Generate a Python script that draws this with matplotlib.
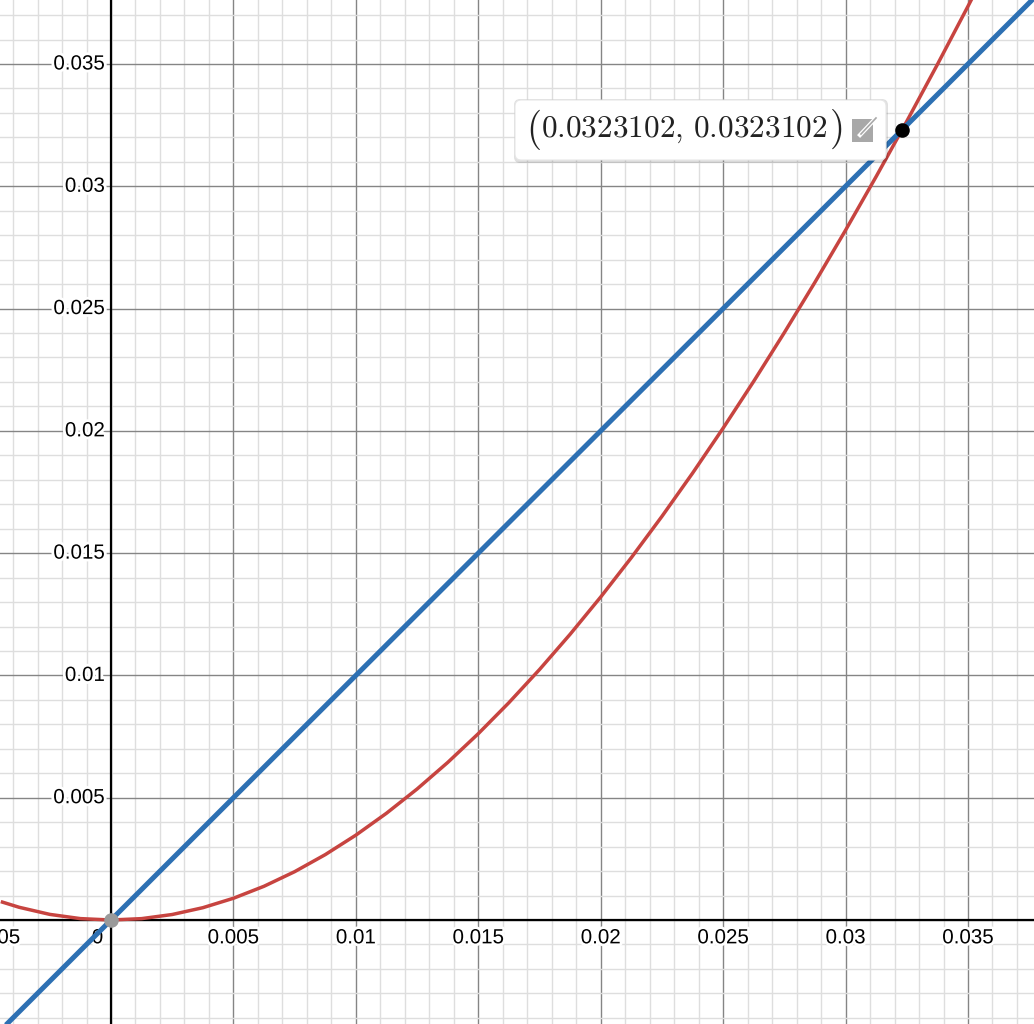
import matplotlib.pyplot as plt
import matplotlib.patheffects as pe
from matplotlib.patches import FancyBboxPatch, Rectangle
from matplotlib.ticker import MultipleLocator

# red curve, values
red_x = [-0.0045, -0.00375, -0.0025, -0.00125, 0.0, 0.00125, 0.0025, 0.00375, 0.005,
         0.00625, 0.0075, 0.00875, 0.01, 0.01125, 0.0125, 0.01375, 0.015, 0.01625,
         0.0175, 0.01875, 0.02, 0.02125, 0.0225, 0.02375, 0.025, 0.02625, 0.0275,
         0.02875, 0.03, 0.03125, 0.0325, 0.03375, 0.035, 0.0355]
red_y = [0.000752, 0.000520, 0.000230, 0.0000572, 0.0, 0.0000565, 0.000225, 0.000503,
         0.000889, 0.001380, 0.001976, 0.002673, 0.003470, 0.004365, 0.005356, 0.006441,
         0.007619, 0.008886, 0.010241, 0.011683, 0.013208, 0.014816, 0.016504, 0.018270,
         0.020113, 0.022029, 0.024019, 0.026078, 0.028206, 0.030400, 0.032659, 0.034981,
         0.037363, 0.038337]

# blue line y = x
blue_x = [-0.0050, 0.0380]
blue_y = [-0.0050, 0.0380]

# points
hit = (0.0323102, 0.0323102)
origin = (0.0, 0.0)
hit_label = r'$0.0323102,\, 0.0323102$'

x_ticks = [-0.005, 0.005, 0.01, 0.015, 0.02, 0.025, 0.03, 0.035]
x_labels = ['−0.005', '0.005', '0.01', '0.015', '0.02', '0.025', '0.03', '0.035']
y_ticks = [0.005, 0.01, 0.015, 0.02, 0.025, 0.03, 0.035]
y_labels = ['0.005', '0.01', '0.015', '0.02', '0.025', '0.03', '0.035']

W, H = 1034, 1024
fig = plt.figure(figsize=(W / 100, H / 100), dpi=100)
ax = fig.add_axes([0, 0, 1, 1])
ax.set_xlim(-0.004533, 0.037695)
ax.set_ylim(-0.004252, 0.037617)

# grid
ax.xaxis.set_major_locator(MultipleLocator(0.005))
ax.yaxis.set_major_locator(MultipleLocator(0.005))
ax.xaxis.set_minor_locator(MultipleLocator(0.001))
ax.yaxis.set_minor_locator(MultipleLocator(0.001))
ax.grid(which='minor', color='#dedede', linewidth=1.0)
ax.grid(which='major', color='#858585', linewidth=1.0)
ax.tick_params(which='both', length=0, labelbottom=False, labelleft=False)
for s in ax.spines.values():
    s.set_visible(False)
ax.set_axisbelow(True)

ax.axhline(0, color='black', lw=1.6, zorder=2)
ax.axvline(0, color='black', lw=1.6, zorder=2)

halo = [pe.withStroke(linewidth=4, foreground='white')]
font = dict(family='Liberation Sans', fontsize=14.8, color='black', path_effects=halo, zorder=3)
for t, lab in zip(x_ticks, x_labels):
    ax.text(t, -0.00073, lab, ha='center', va='center', **font)
ax.text(-0.00055, -0.00073, '0', ha='center', va='center', **font)
for t, lab in zip(y_ticks, y_labels):
    ax.text(-0.00025, t, lab, ha='right', va='center', **font)

# curves
ax.plot(red_x, red_y, color='#c74440', lw=2.5, zorder=4, solid_capstyle='butt')
ax.plot(blue_x, blue_y, color='#2d70b3', lw=3.6, zorder=5, solid_capstyle='butt')

ax.scatter([origin[0]], [origin[1]], s=110, color='#9a9a9a', zorder=6, linewidths=0)
ax.scatter([hit[0]], [hit[1]], s=110, color='black', zorder=7, linewidths=0)

# label box (pixel coords -> figure fraction)
def fx(px):
    return px / W

def fy(py):
    return 1 - py / H

shadow = FancyBboxPatch((fx(514), fy(163)), fx(888) - fx(514), fy(99) - fy(163),
                        boxstyle='round,pad=0,rounding_size=0.006', transform=fig.transFigure,
                        facecolor='black', alpha=0.12, edgecolor='none', zorder=8)
fig.patches.append(shadow)
box = FancyBboxPatch((fx(515), fy(160)), fx(886) - fx(515), fy(100) - fy(160),
                     boxstyle='round,pad=0,rounding_size=0.006', transform=fig.transFigure,
                     facecolor='white', edgecolor='#e6e6e6', lw=0.8, zorder=9)
fig.patches.append(box)
fig.text(fx(684), fy(130), hit_label, ha='center', va='center', fontsize=22.5,
         math_fontfamily='cm', color='#222222', zorder=10)
fig.text(fx(533), fy(129), r'$($', ha='center', va='center', fontsize=28,
         math_fontfamily='cm', color='#222222', zorder=10)
fig.text(fx(836), fy(129), r'$)$', ha='center', va='center', fontsize=28,
         math_fontfamily='cm', color='#222222', zorder=10)

# edit icon
icon = Rectangle((fx(852), fy(142)), fx(873) - fx(852), fy(119) - fy(142),
                 transform=fig.transFigure, facecolor='#a8a8a8', edgecolor='none', zorder=10)
fig.patches.append(icon)
fig.lines.append(plt.Line2D([fx(860), fx(877)], [fy(135), fy(117)], transform=fig.transFigure,
                            color='white', lw=3, zorder=11))
fig.lines.append(plt.Line2D([fx(861), fx(876)], [fy(134), fy(118)], transform=fig.transFigure,
                            color='#a8a8a8', lw=1.2, zorder=12))

fig.savefig('out.png', dpi=100)
